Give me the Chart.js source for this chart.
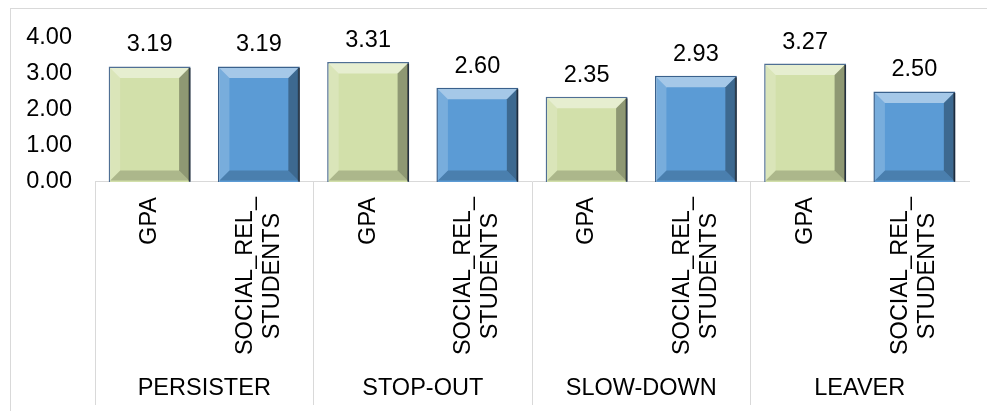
<!DOCTYPE html>
<html>
<head>
<meta charset="utf-8">
<script src="https://cdn.jsdelivr.net/npm/chart.js@4.4.1/dist/chart.umd.min.js"></script>
<style>
  html, body { margin: 0; padding: 0; background: #ffffff; }
  #wrap { position: relative; width: 987px; height: 411px; overflow: hidden; }
  #frame { position: absolute; left: 10px; top: 8px; width: 1000px; height: 430px; border: 1px solid #d9d9d9; box-sizing: border-box; }
  #c { position: absolute; left: 0; top: 0; }
</style>
</head>
<body>
<div id="wrap">
  <div id="frame"></div>
  <canvas id="c" width="987" height="411"></canvas>
</div>
<script>
// ---- data ----
const groups = ['PERSISTER', 'STOP-OUT', 'SLOW-DOWN', 'LEAVER'];
const categories = [
  'GPA', ['SOCIAL_REL_', 'STUDENTS'],
  'GPA', ['SOCIAL_REL_', 'STUDENTS'],
  'GPA', ['SOCIAL_REL_', 'STUDENTS'],
  'GPA', ['SOCIAL_REL_', 'STUDENTS']
];
const values = [3.19, 3.19, 3.31, 2.60, 2.35, 2.93, 3.27, 2.50];
const yTickValues = [0, 1, 2, 3, 4];

// ---- style ----
const FAMILY = '"Liberation Sans", Arial, sans-serif';
const FSIZE = 23.5;
const FONT = { family: FAMILY, size: FSIZE, lineHeight: 1.2 };
const LINE_GAP = 27;            // spacing between the two lines of a wrapped label
const GREEN = '#D2E0AA', GREEN_BORDER = '#4F6F94';
const BLUE = '#5B9BD5', BLUE_BORDER = '#3A618C';
const SEP = '#D9D9D9';

const mctx = document.createElement('canvas').getContext('2d');
mctx.font = FSIZE + 'px ' + FAMILY;
function textW(t) { return mctx.measureText(t).width; }
const secondLineShift = (textW('SOCIAL_REL_') - textW('STUDENTS')) / 2;

const isGPA = i => !Array.isArray(categories[i]);

const bevelPlugin = {
  id: 'bevel',
  afterDatasetsDraw(chart) {
    const ctx = chart.ctx;
    const meta = chart.getDatasetMeta(0);
    meta.data.forEach((el, i) => {
      const p = el.getProps(['x', 'y', 'base', 'width'], true);
      const bw = 1.5;
      const l = p.x - p.width / 2 + bw, r = p.x + p.width / 2 - bw;
      const t = p.y + bw, b = p.base - bw;
      const v = Math.min(10, (b - t) / 3);
      const poly = (pts, fill) => {
        ctx.beginPath();
        ctx.moveTo(pts[0][0], pts[0][1]);
        for (let k = 1; k < pts.length; k++) ctx.lineTo(pts[k][0], pts[k][1]);
        ctx.closePath();
        ctx.fillStyle = fill;
        ctx.fill();
      };
      ctx.save();
      poly([[l, t], [r, t], [r - v, t + v], [l + v, t + v]], 'rgba(255,255,255,0.45)');
      poly([[l, t], [l + v, t + v], [l + v, b - v], [l, b]], 'rgba(255,255,255,0.18)');
      poly([[r, t], [r, b], [r - v, b - v], [r - v, t + v]], 'rgba(0,0,0,0.32)');
      poly([[l, b], [l + v, b - v], [r - v, b - v], [r, b]], 'rgba(0,0,0,0.18)');
      ctx.strokeStyle = 'rgba(0,0,0,0.55)';
      ctx.lineWidth = 2;
      ctx.beginPath();
      ctx.moveTo(r + 0.5, t);
      ctx.lineTo(r + 0.5, b + 1);
      ctx.stroke();
      ctx.restore();
    });
  }
};

const valueLabelPlugin = {
  id: 'valueLabels',
  afterDatasetsDraw(chart) {
    const ctx = chart.ctx;
    const meta = chart.getDatasetMeta(0);
    ctx.save();
    ctx.font = FSIZE + 'px ' + FAMILY;
    ctx.fillStyle = '#000';
    ctx.textAlign = 'center';
    ctx.textBaseline = 'alphabetic';
    meta.data.forEach((el, i) => {
      const p = el.getProps(['x', 'y'], true);
      ctx.fillText(values[i].toFixed(2), p.x, p.y - 15);
    });
    ctx.restore();
  }
};

new Chart(document.getElementById('c'), {
  type: 'bar',
  data: {
    labels: categories,
    datasets: [{
      data: values,
      xAxisID: 'x',
      yAxisID: 'y',
      backgroundColor: ctx => isGPA(ctx.dataIndex) ? GREEN : BLUE,
      borderColor: ctx => isGPA(ctx.dataIndex) ? GREEN_BORDER : BLUE_BORDER,
      borderWidth: 1.5,
      barPercentage: 0.75,
      categoryPercentage: 1.0
    }]
  },
  options: {
    responsive: false,
    animation: false,
    devicePixelRatio: 1,
    layout: { padding: { top: 37, right: 18, bottom: 0, left: 0 } },
    plugins: { legend: { display: false }, tooltip: { enabled: false } },
    scales: {
      y: {
        position: 'left',
        min: 0, max: 4,
        afterBuildTicks: s => { s.ticks = yTickValues.map(v => ({ value: v })); },
        ticks: { callback: v => Number(v).toFixed(2), padding: 23, font: FONT, color: '#000' },
        grid: { display: false, drawTicks: false },
        border: { display: false },
        afterFit: s => { s.width = 95; }
      },
      x: {
        type: 'category', position: 'bottom', weight: 0, offset: true,
        grid: {
          display: true, offset: true, drawOnChartArea: false, drawTicks: true,
          tickLength: 223, lineWidth: 1,
          color: ctx => ctx.index % 2 === 0 ? SEP : 'rgba(0,0,0,0)'
        },
        border: { display: true, color: SEP, width: 1 },
        ticks: {
          autoSkip: false, minRotation: 90, maxRotation: 90, padding: 15 - 223,
          font: FONT, color: '#000',
          callback: (v, i) => Array.isArray(categories[i]) ? '' : categories[i]
        },
        afterFit: s => { s.height = 190; }
      },
      xl1: {
        type: 'category', position: { y: 0 }, offset: true,
        labels: categories,
        grid: { display: false, drawTicks: false },
        border: { display: false },
        ticks: {
          autoSkip: false, minRotation: 90, maxRotation: 90, padding: 15,
          labelOffset: -LINE_GAP / 2, font: FONT, color: '#000',
          callback: (v, i) => Array.isArray(categories[i]) ? categories[i][0] : ''
        }
      },
      xl2: {
        type: 'category', position: { y: 0 }, offset: true,
        labels: categories,
        grid: { display: false, drawTicks: false },
        border: { display: false },
        ticks: {
          autoSkip: false, minRotation: 90, maxRotation: 90, padding: 15 + secondLineShift,
          labelOffset: LINE_GAP / 2, font: FONT, color: '#000',
          callback: (v, i) => Array.isArray(categories[i]) ? categories[i][1] : ''
        }
      },
      x2: {
        type: 'category', position: 'bottom', weight: 1, offset: true,
        labels: groups,
        grid: { display: false, drawTicks: false },
        border: { display: false },
        ticks: { autoSkip: false, minRotation: 0, maxRotation: 0, padding: 2, font: FONT, color: '#000' },
        afterFit: s => { s.height = 39; }
      }
    }
  },
  plugins: [bevelPlugin, valueLabelPlugin]
});
</script>
</body>
</html>
